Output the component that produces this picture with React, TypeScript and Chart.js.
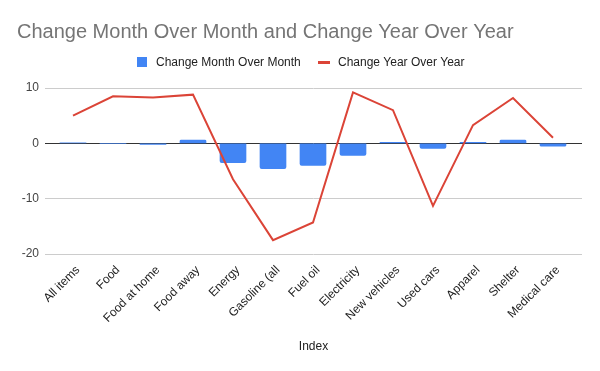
import React, { useEffect, useRef } from "react";
import { Chart, registerables } from "chart.js";

Chart.register(...registerables);

const categories = [
  "All items", "Food", "Food at home", "Food away", "Energy", "Gasoline (all",
  "Fuel oil", "Electricity", "New vehicles", "Used cars", "Apparel", "Shelter", "Medical care",
];
const monthOverMonth = [0.1, 0, -0.2, 0.6, -3.5, -4.6, -4.0, -2.2, 0.2, -0.9, 0.2, 0.6, -0.5];
const yearOverYear = [5.0, 8.5, 8.3, 8.8, -6.5, -17.5, -14.3, 9.2, 6.0, -11.3, 3.3, 8.2, 1.0];
const yTicks = [-20, -10, 0, 10];
const titleText = "Change Month Over Month and Change Year Over Year";
const xTitle = "Index";
const seriesNames = ["Change Month Over Month", "Change Year Over Year"];

const BLUE = "#4285f4";
const RED = "#db4437";
const FONT = "'Liberation Sans', Arial, sans-serif";

const overlay = {
  id: "overlay",
  beforeDraw(chart: any) {
    const sx = chart.scales.x;
    const items = sx.getLabelItems(chart.chartArea);
    if (!items._shifted) {
      items.forEach((it: any) => {
        if (it.options && it.options.translation) it.options.translation[0] += 5;
      });
      items._shifted = true;
    }
  },
  afterDraw(chart: any) {
    const ctx = chart.ctx;
    ctx.save();
    ctx.fillStyle = "#757575";
    ctx.font = `20px ${FONT}`;
    ctx.textBaseline = "alphabetic";
    ctx.textAlign = "left";
    ctx.fillText(titleText, 17, 38);
    ctx.font = `12px ${FONT}`;
    ctx.fillStyle = BLUE;
    ctx.fillRect(137, 57, 10, 10);
    ctx.fillStyle = "#222";
    ctx.fillText(seriesNames[0], 156, 66);
    ctx.fillStyle = RED;
    ctx.fillRect(318, 61, 12, 3);
    ctx.fillStyle = "#222";
    ctx.fillText(seriesNames[1], 338, 66);
    ctx.restore();
  },
};

export default function App() {
  const ref = useRef<HTMLCanvasElement>(null);
  useEffect(() => {
    const chart = new Chart(ref.current!, {
      type: "bar",
      data: {
        datasets: [
          {
            type: "line",
            label: seriesNames[1],
            data: yearOverYear.map((v, i) => ({ x: i, y: v })),
            borderColor: RED,
            backgroundColor: RED,
            borderWidth: 2,
            pointRadius: 0,
            tension: 0,
            order: 0,
          },
          {
            type: "bar",
            label: seriesNames[0],
            data: monthOverMonth.map((v, i) => ({ x: i, y: v })),
            backgroundColor: BLUE,
            barThickness: 26,
            borderRadius: 2,
            borderSkipped: "start",
            order: 1,
          },
        ] as any,
      },
      options: {
        animation: false,
        responsive: false,
        maintainAspectRatio: false,
        layout: { padding: { top: 88, left: 10, right: 18, bottom: 0 } },
        plugins: { legend: { display: false }, title: { display: false }, tooltip: { enabled: false } },
        scales: {
          x: {
            type: "linear",
            min: -0.7,
            max: 12.725,
            offset: false,
            afterBuildTicks: (s: any) => {
              s.ticks = categories.map((_, i) => ({ value: i }));
            },
            afterFit: (s: any) => {
              s.height = 117;
            },
            grid: { display: false, drawTicks: false },
            border: { display: false },
            ticks: {
              autoSkip: false,
              minRotation: 45,
              maxRotation: 45,
              padding: 9,
              color: "#222",
              font: { family: FONT, size: 12 },
              callback: (v: any) => categories[v] ?? "",
            },
            title: {
              display: true,
              text: xTitle,
              color: "#222",
              font: { family: FONT, size: 12 },
              padding: { top: 0, bottom: 17 },
            },
          },
          y: {
            min: -20,
            max: 10,
            afterBuildTicks: (s: any) => {
              s.ticks = yTicks.map((v) => ({ value: v }));
            },
            afterFit: (s: any) => {
              s.width = 35;
            },
            grid: {
              drawTicks: false,
              color: (c: any) => (c.tick && c.tick.value === 0 ? "#333" : "#cccccc"),
            },
            border: { display: false },
            ticks: {
              padding: 6,
              color: "#444",
              font: { family: FONT, size: 12 },
            },
          },
        },
      },
      plugins: [overlay],
    });
    return () => chart.destroy();
  }, []);
  return (
    <div style={{ position: "fixed", left: 0, top: 0, width: 600, height: 371, background: "#fff" }}>
      <canvas ref={ref} width={600} height={371} style={{ width: 600, height: 371 }} />
    </div>
  );
}
